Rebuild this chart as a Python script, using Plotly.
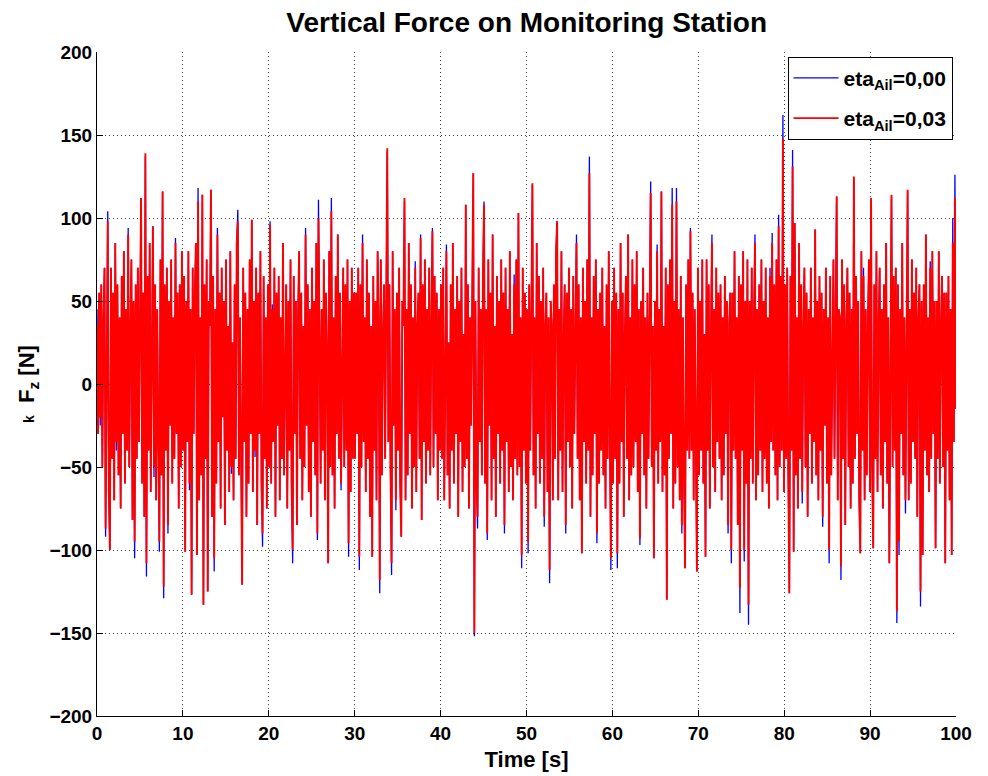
import numpy as np
import plotly.graph_objects as go

# Force samples (8 samples per second, 0..100 s)
force_eta_000 = [
    # 0-10 s
    45, -30, 55, -25, 60, -50, 40, 70, -92, 45,
    104, -65, -100, 70, -45, 55, -70, 85, -40, 60,
    -55, 40, -75, 65, -30, 80, -60, 45, -40, 94,
    -50, 30, 75, -82, 50, -105, 60, -45, 70, -35,
    40, 112, -60, 55, -80, 137, -116, 65, -40, 85,
    -65, 35, 95, -56, 60, -70, 45, -30, -101, 75,
    -55, 116, -129, 60, -40, 70, -90, 50, -25, 75,
    -60, 40, -45, 88, -30, 55, -75, 60, -50, 80,
    # 10-20 s
    -40, 65, -101, 50, -35, 80, -64, 45, -127, 70,
    -30, 55, 85, -103, 118, -70, 40, -55, 114, -133,
    60, -45, 75, -125, 50, 35, 117, -80, 65, -113,
    45, -60, 94, -35, 55, -75, 70, -20, 50, -85,
    75, -40, 35, -65, 80, -54, 25, -70, 60, -45,
    85, 105, -55, 40, -75, -121, 70, -35, 55, -80,
    45, -60, 75, -30, 99, -65, 50, -44, 70, -85,
    55, -30, 80, -60, -98, 65, -45, 40, -75, 60,
    # 20-30 s
    -50, 98, -60, 48, -35, 70, -80, 55, -25, 65,
    -70, 40, -45, 85, -55, 30, 60, -75, 50, -40,
    75, -60, -108, 65, -30, 50, -85, 40, 80, -45,
    55, -70, 35, -50, 94, -25, 60, -65, 45, -80,
    70, -35, 50, -55, 85, -94, 111, 30, -60, 45,
    -40, 75, -70, 55, 20, -108, 80, -50, 112, -55,
    40, -75, 65, -30, 90, -45, 55, -64, 35, 70,
    -50, 60, -40, 75, -104, 50, -65, 70, -45, 55,
    # 30-40 s
    -45, 55, -30, 70, -112, 60, -50, 90, -35, 40,
    -65, 75, -45, 55, -80, 35, -104, 65, -40, 50,
    -70, 80, 40, -126, 75, -55, 30, 60, -45, 85,
    140, -35, 60, -50, -115, 80, -25, 45, -76, 55,
    -40, 70, -60, -92, 50, 35, 110, -70, 45, -55,
    85, -30, 60, -75, 40, -50, 74, -65, 35, 55,
    -45, 90, -82, 60, -35, 75, -60, 45, -40, 70,
    -55, 35, 94, -50, 65, -30, 55, -70, 45, -40,
    # 40-50 s
    60, -45, 70, -70, 40, 84, -55, 25, -75, 60,
    -40, 85, -60, 45, -30, 65, -80, 50, -35, 70,
    -65, 30, -50, 108, -45, 60, -75, 40, -25, 55,
    127, -152, 50, -60, -87, 70, -35, 45, -55, 65,
    110, -60, 45, -94, 75, -25, 55, -70, 90, -45,
    35, -80, 65, -30, 50, -60, 75, -40, 55, -90,
    70, -35, 45, -65, 80, -50, 30, -70, 66, -45,
    75, -55, 103, -50, 40, -111, 70, -40, 55, -60,
    # 50-60 s
    45, -102, 60, -40, 75, 120, -55, 40, -75, 85,
    -30, 65, -60, 50, -45, 70, -86, 35, 55, -65,
    40, -120, 50, 35, -70, 60, -45, 80, 98, -70,
    45, -40, 80, -65, 25, 60, -90, 55, -35, 70,
    -50, 45, -75, 65, -30, 55, 90, -45, 60, -70,
    40, -102, 70, -35, 50, -60, 75, -40, 137, -80,
    40, -55, 65, -30, 75, -96, 45, -60, 55, -40,
    70, -55, 35, -75, 60, -45, 80, -30, -112, 50,
    # 60-70 s
    -60, 70, -45, 55, -111, 45, -60, 85, -35, 55,
    -80, 30, 65, -45, 90, -70, 40, -55, 75, -50,
    60, -35, 80, -65, 45, -97, 50, -30, 70, -55,
    40, -75, 55, -45, 60, 122, -50, 35, -105, 50,
    -40, 84, -60, 45, -35, 116, -65, 35, -55, 70,
    -130, 60, -45, 75, -30, 118, -75, 50, -60, 118,
    -50, 45, -70, 65, -90, 40, -55, -111, 60, -40,
    75, -45, 94, -40, 55, -70, 45, -60, -113, 70,
    # 70-80 s
    -55, 50, -40, 75, -60, 30, -104, 75, -40, 60,
    -75, 30, 90, -50, 45, -65, 70, -35, 55, -45,
    60, -70, 40, -55, 65, -30, 50, -90, 35, 55,
    -108, 55, -40, 80, -45, 40, -85, 65, -138, 60,
    -40, 80, -107, 50, -60, 75, -145, 50, -45, 70,
    -60, 35, 90, -70, 45, -55, 60, -40, 75, -65,
    50, -45, 70, -60, 40, -75, 70, -35, 91, -40,
    60, -55, 75, -70, 102, -50, 65, -40, 162, -65,
    # 80-90 s
    60, -45, 70, -55, -126, 65, -40, 141, -101, 97,
    -55, 40, -75, 85, -45, 60, -72, 35, 70, -50,
    55, -80, 45, -30, 70, -60, 40, -35, 93, -55,
    50, -70, 65, -40, 55, -86, 45, -25, 70, -60,
    40, -108, 65, -55, 35, 75, -45, 60, 113, -70,
    45, 40, -118, 75, -45, 60, -85, 40, 70, -50,
    55, -75, 45, -60, 124, -45, 65, -30, 50, -70,
    -102, 80, -40, 70, -70, 45, -55, 35, 75, -65,
    # 90-100 s
    111, -50, -99, 60, -45, 80, -65, 35, 70, -55,
    45, -75, 60, -35, 85, -60, 40, -108, 55, 113,
    -50, 65, -40, 70, -144, 60, -103, 45, -30, 85,
    -55, 40, -78, 65, 116, -70, 45, -60, 75, -35,
    55, -45, 70, -80, 40, 60, -134, 50, -103, 60,
    -40, 90, -55, 40, -65, 74, -45, 80, -30, 50,
    -99, 50, -45, 80, -60, 35, 65, -50, 55, -108,
    55, -40, 65, -70, 45, -103, 100, -35, 126, -12,
]

force_eta_003 = [
    # 0-10 s
    35, -30, 55, -20, 60, -50, 40, 70, -87, 45,
    98, -65, -100, 70, -45, 55, -70, 85, -35, 60,
    -55, 40, -75, 65, -30, 80, -60, 45, -40, 90,
    -50, 30, 75, -82, 50, -95, 60, -45, 70, -35,
    40, 112, -60, 55, -80, 139, -108, 65, -40, 85,
    -65, 35, 95, -50, 60, -70, 45, -30, -95, 75,
    -55, 116, -122, 60, -40, 70, -85, 50, -25, 75,
    -60, 40, -45, 85, -30, 55, -75, 60, -50, 80,
    # 10-20 s
    -40, 65, -101, 50, -35, 80, -60, 45, -127, 70,
    -30, 55, 85, -103, 110, -70, 40, -55, 114, -133,
    60, -45, 75, -125, 50, 35, 117, -80, 65, -105,
    45, -60, 90, -35, 55, -75, 70, -20, 50, -85,
    75, -40, 35, -65, 80, -50, 25, -70, 60, -45,
    85, 98, -55, 40, -75, -121, 70, -35, 55, -80,
    45, -60, 75, -30, 99, -65, 50, -40, 70, -85,
    55, -30, 80, -60, -90, 65, -45, 40, -75, 60,
    # 20-30 s
    -50, 96, -60, 45, -35, 70, -80, 55, -25, 65,
    -70, 40, -45, 85, -55, 30, 60, -75, 50, -40,
    75, -60, -100, 65, -30, 50, -85, 40, 80, -45,
    55, -70, 35, -50, 90, -25, 60, -65, 45, -80,
    70, -35, 50, -55, 85, -90, 100, 30, -60, 45,
    -40, 75, -70, 55, 20, -108, 80, -50, 104, -55,
    40, -75, 65, -30, 90, -45, 55, -60, 35, 70,
    -50, 60, -40, 75, -96, 50, -65, 70, -45, 55,
    # 30-40 s
    -45, 55, -30, 70, -104, 60, -50, 85, -35, 40,
    -65, 75, -45, 55, -80, 35, -104, 65, -40, 50,
    -70, 80, 40, -118, 75, -55, 30, 60, -45, 85,
    142, -35, 60, -50, -108, 80, -25, 45, -70, 55,
    -40, 70, -60, -92, 50, 35, 112, -70, 45, -55,
    85, -30, 60, -75, 40, -50, 70, -65, 35, 55,
    -45, 88, -82, 60, -35, 75, -60, 45, -40, 70,
    -55, 35, 92, -50, 65, -30, 55, -70, 45, -40,
    # 40-50 s
    60, -45, 70, -70, 40, 80, -55, 25, -75, 60,
    -40, 85, -60, 45, -30, 65, -80, 50, -35, 70,
    -65, 30, -50, 108, -45, 60, -75, 40, -25, 55,
    127, -150, 50, -60, -80, 70, -35, 45, -55, 65,
    108, -60, 45, -90, 75, -25, 55, -70, 90, -45,
    35, -80, 65, -30, 50, -60, 75, -40, 55, -85,
    70, -35, 45, -65, 80, -50, 30, -70, 60, -45,
    75, -55, 103, -50, 40, -103, 70, -40, 55, -60,
    # 50-60 s
    45, -95, 60, -40, 75, 121, -55, 40, -75, 85,
    -30, 65, -60, 50, -45, 70, -80, 35, 55, -65,
    40, -112, 50, 35, -70, 60, -45, 80, 98, -70,
    45, -40, 80, -65, 25, 60, -85, 55, -35, 70,
    -50, 45, -75, 65, -30, 55, 85, -45, 60, -70,
    40, -102, 70, -35, 50, -60, 75, -40, 127, -80,
    40, -55, 65, -30, 75, -90, 45, -60, 55, -40,
    70, -55, 35, -75, 60, -45, 80, -30, -105, 50,
    # 60-70 s
    -60, 70, -45, 55, -102, 45, -60, 85, -35, 55,
    -80, 30, 65, -45, 90, -70, 40, -55, 75, -50,
    60, -35, 80, -65, 45, -93, 50, -30, 70, -55,
    40, -75, 55, -45, 60, 115, -50, 35, -105, 50,
    -40, 80, -60, 45, -35, 116, -65, 35, -55, 70,
    -130, 60, -45, 75, -30, 108, -75, 50, -60, 110,
    -50, 45, -70, 65, -85, 40, -55, -111, 60, -40,
    75, -45, 92, -40, 55, -70, 45, -60, -113, 70,
    # 70-80 s
    -55, 50, -40, 75, -60, 30, -104, 75, -40, 60,
    -75, 30, 85, -50, 45, -65, 70, -35, 55, -45,
    60, -70, 40, -55, 65, -30, 50, -85, 35, 55,
    -100, 55, -40, 80, -45, 40, -85, 65, -123, 60,
    -40, 80, -100, 50, -60, 75, -133, 50, -45, 70,
    -60, 35, 85, -70, 45, -55, 60, -40, 75, -65,
    50, -45, 70, -60, 40, -75, 65, -35, 85, -40,
    60, -55, 75, -70, 95, -50, 65, -40, 148, -65,
    # 80-90 s
    60, -45, 70, -55, -126, 65, -40, 131, -101, 97,
    -55, 40, -75, 85, -45, 60, -65, 35, 70, -50,
    55, -80, 45, -30, 70, -60, 40, -35, 93, -55,
    50, -70, 65, -40, 55, -80, 45, -25, 70, -60,
    40, -100, 65, -55, 35, 75, -45, 60, 113, -70,
    45, 40, -110, 75, -45, 60, -85, 35, 70, -50,
    55, -75, 45, -60, 125, -45, 65, -30, 50, -70,
    -102, 80, -40, 65, -70, 45, -55, 35, 75, -65,
    # 90-100 s
    112, -50, -99, 60, -45, 80, -65, 35, 70, -55,
    45, -75, 60, -35, 85, -60, 40, -108, 55, 114,
    -50, 65, -40, 70, -137, 60, -95, 45, -30, 85,
    -55, 40, -70, 65, 117, -70, 45, -60, 75, -35,
    55, -45, 70, -80, 40, 60, -125, 50, -103, 60,
    -40, 90, -55, 40, -65, 70, -45, 80, -30, 50,
    -99, 50, -45, 80, -60, 35, 65, -50, 55, -108,
    55, -40, 65, -70, 45, -103, 85, -35, 112, -15,
]

series_names = ["eta<sub>Ail</sub>=0,00", "eta<sub>Ail</sub>=0,03"]
x_ticks = [0, 10, 20, 30, 40, 50, 60, 70, 80, 90, 100]
y_ticks = [-200, -150, -100, -50, 0, 50, 100, 150, 200]

time_s = np.linspace(0, 100, len(force_eta_000))

FONT = "Liberation Sans"

fig = go.Figure()
fig.add_trace(go.Scatter(x=time_s, y=force_eta_000, mode="lines", name=series_names[0],
                         legendgroup="a", line=dict(color="#0000ff", width=1.3)))
fig.add_trace(go.Scatter(x=time_s, y=force_eta_003, mode="lines", name=series_names[1],
                         legendgroup="b", line=dict(color="#ff0000", width=1.9)))

axis_common = dict(
    showline=True, linecolor="black", linewidth=1,
    ticks="inside", ticklen=6, tickcolor="black",
    showgrid=True, gridcolor="#444444", griddash="1px,3px", gridwidth=1,
    zeroline=False,
    tickfont=dict(family=FONT, size=19, color="black", weight="bold"),
)

fig.update_layout(
    width=988, height=776,
    paper_bgcolor="white", plot_bgcolor="white",
    margin=dict(l=89, r=40, t=44, b=68),
    title=dict(text="Vertical Force on Monitoring Station",
               xref="container", x=0.525, xanchor="center",
               yref="container", y=0.982, yanchor="middle",
               font=dict(family=FONT, size=28, color="black", weight="bold")),
    xaxis=dict(range=[0, 100], tickvals=x_ticks,
               title=dict(text="Time [s]", standoff=8,
                          font=dict(family=FONT, size=22, color="black", weight="bold")),
               **axis_common),
    yaxis=dict(range=[-200, 200], tickvals=y_ticks,
               title=dict(text="<span style='font-size:14px'>k</span>  F<sub>z</sub> [N]",
                          standoff=8,
                          font=dict(family=FONT, size=22, color="black", weight="bold")),
               **axis_common),
    legend=dict(x=0.996, y=0.993, xanchor="right", yanchor="top",
                bgcolor="white", bordercolor="black", borderwidth=1,
                font=dict(family=FONT, size=21, color="black", weight="bold"),
                itemwidth=45, tracegroupgap=10),
    showlegend=True,
)

fig.write_html("out.html")
